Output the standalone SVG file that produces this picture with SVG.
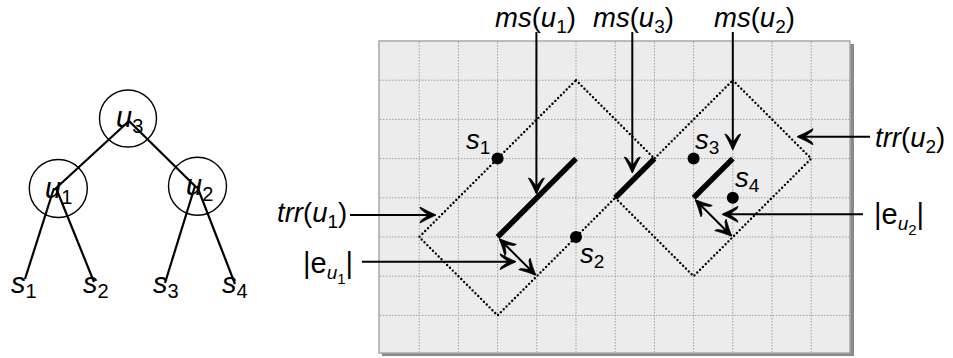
<svg xmlns="http://www.w3.org/2000/svg" width="953" height="358" viewBox="0 0 953 358">
<style>
text{font-family:"Liberation Sans",Arial,sans-serif;font-size:27.5px;fill:#000}
.i{font-style:italic}
.sb{font-size:19px;font-style:normal}
.ss{font-size:19px;font-style:italic}
.sss{font-size:15px;font-style:normal}
.t{font-size:29px}
.tsb{font-size:20px}
.edge{stroke:#000;stroke-width:2.2;fill:none}
.circ{stroke:#000;stroke-width:1.4;fill:none}
.grid{stroke:#a0a0a0;stroke-width:1;stroke-dasharray:1.5 1.5}
.trr{stroke:#000;stroke-width:2.4;stroke-dasharray:0 4;stroke-linecap:round;fill:none}
.ms{stroke:#000;stroke-width:5.5;stroke-linecap:butt}
.arr{stroke:#000;stroke-width:2;fill:none;marker-end:url(#ah)}
.dbl{stroke:#000;stroke-width:2;fill:none;marker-end:url(#ah);marker-start:url(#ahs)}
</style>
<defs>
<marker id="ah" markerUnits="userSpaceOnUse" viewBox="-17 -10 20 20" refX="0" refY="0" markerWidth="20" markerHeight="20" orient="auto">
<path d="M1,0 Q-7,-3.5 -15,-8 L-14,-5.5 Q-9,-2 -7,0 Q-9,2 -14,5.5 L-15,8 Q-7,3.5 1,0 Z" fill="#000" stroke="#000" stroke-width="0.8" stroke-linejoin="round"/>
</marker>
<marker id="ahs" markerUnits="userSpaceOnUse" viewBox="-17 -10 20 20" refX="0" refY="0" markerWidth="20" markerHeight="20" orient="auto-start-reverse">
<path d="M1,0 Q-7,-3.5 -15,-8 L-14,-5.5 Q-9,-2 -7,0 Q-9,2 -14,5.5 L-15,8 Q-7,3.5 1,0 Z" fill="#000" stroke="#000" stroke-width="0.8" stroke-linejoin="round"/>
</marker>
</defs>

<!-- Tree -->
<g id="tree-edges">
<line class="edge" x1="129" y1="121" x2="54" y2="190"/>
<line class="edge" x1="129" y1="121" x2="197" y2="188"/>
<line class="edge" x1="54" y1="188" x2="25" y2="279"/>
<line class="edge" x1="56" y1="188" x2="94" y2="282"/>
<line class="edge" x1="195" y1="186" x2="165" y2="283"/>
<line class="edge" x1="197" y1="186" x2="235" y2="284"/>
</g>
<g id="node-u3"><circle class="circ" cx="128" cy="118.5" r="28.5"/><text class="t" x="116" y="127"><tspan class="i">u</tspan><tspan class="tsb" dy="6">3</tspan></text></g>
<g id="node-u1"><circle class="circ" cx="58.3" cy="188.5" r="29"/><text class="t" x="45" y="198"><tspan class="i">u</tspan><tspan class="tsb" dy="6">1</tspan></text></g>
<g id="node-u2"><circle class="circ" cx="197.5" cy="186.2" r="29"/><text class="t" x="186" y="195"><tspan class="i">u</tspan><tspan class="tsb" dy="6">2</tspan></text></g>
<g id="node-s1"><text class="t" x="11" y="293"><tspan class="i">s</tspan><tspan class="tsb" dy="5">1</tspan></text></g>
<g id="node-s2"><text class="t" x="83" y="293"><tspan class="i">s</tspan><tspan class="tsb" dy="5">2</tspan></text></g>
<g id="node-s3"><text class="t" x="153" y="293"><tspan class="i">s</tspan><tspan class="tsb" dy="5">3</tspan></text></g>
<g id="node-s4"><text class="t" x="222" y="293"><tspan class="i">s</tspan><tspan class="tsb" dy="5">4</tspan></text></g>

<!-- Panel -->
<g id="panel">
<rect x="382" y="44" width="472" height="312" fill="#8a8a8a"/>
<rect x="379" y="41" width="471" height="312" fill="#ececec" stroke="#a8a8a8" stroke-width="1.5"/>
<g id="grid">
<line class="grid" x1="419.2" y1="42" x2="419.2" y2="352"/>
<line class="grid" x1="458.4" y1="42" x2="458.4" y2="352"/>
<line class="grid" x1="497.6" y1="42" x2="497.6" y2="352"/>
<line class="grid" x1="536.8" y1="42" x2="536.8" y2="352"/>
<line class="grid" x1="576" y1="42" x2="576" y2="352"/>
<line class="grid" x1="615.2" y1="42" x2="615.2" y2="352"/>
<line class="grid" x1="654.4" y1="42" x2="654.4" y2="352"/>
<line class="grid" x1="693.6" y1="42" x2="693.6" y2="352"/>
<line class="grid" x1="732.8" y1="42" x2="732.8" y2="352"/>
<line class="grid" x1="772" y1="42" x2="772" y2="352"/>
<line class="grid" x1="811.2" y1="42" x2="811.2" y2="352"/>
<line class="grid" x1="380" y1="80.2" x2="849" y2="80.2"/>
<line class="grid" x1="380" y1="119.4" x2="849" y2="119.4"/>
<line class="grid" x1="380" y1="158.6" x2="849" y2="158.6"/>
<line class="grid" x1="380" y1="197.8" x2="849" y2="197.8"/>
<line class="grid" x1="380" y1="237" x2="849" y2="237"/>
<line class="grid" x1="380" y1="276.2" x2="849" y2="276.2"/>
<line class="grid" x1="380" y1="315.4" x2="849" y2="315.4"/>
</g>
</g>

<g id="trr-u1"><polygon class="trr" points="576,80.2 654.4,158.6 497.6,315.4 419.2,237"/></g>
<g id="trr-u2"><polygon class="trr" points="732.8,80.2 811.2,158.6 693.6,276.2 615.2,197.8"/></g>
<g id="ms-u1"><line class="ms" x1="497.6" y1="237" x2="576" y2="158.6"/></g>
<g id="ms-u3"><line class="ms" x1="615.2" y1="197.8" x2="654.4" y2="158.6"/></g>
<g id="ms-u2"><line class="ms" x1="693.6" y1="197.8" x2="732.8" y2="158.6"/></g>

<g id="pt-s1"><circle cx="497.6" cy="158.6" r="6" fill="#000"/><text x="466" y="149"><tspan class="i">s</tspan><tspan class="sb" dy="5">1</tspan></text></g>
<g id="pt-s2"><circle cx="576" cy="237" r="6" fill="#000"/><text x="580" y="263"><tspan class="i">s</tspan><tspan class="sb" dy="5">2</tspan></text></g>
<g id="pt-s3"><circle cx="693.6" cy="158.6" r="6" fill="#000"/><text x="695" y="149"><tspan class="i">s</tspan><tspan class="sb" dy="5">3</tspan></text></g>
<g id="pt-s4"><circle cx="732.8" cy="197.8" r="6" fill="#000"/><text x="735" y="187"><tspan class="i">s</tspan><tspan class="sb" dy="5">4</tspan></text></g>

<!-- Labels -->
<g id="lbl-ms-u1"><text x="495" y="27"><tspan class="i">ms</tspan>(<tspan class="i">u</tspan><tspan class="sb" dy="6">1</tspan><tspan dy="-6">)</tspan></text></g>
<g id="lbl-ms-u3"><text x="593" y="27"><tspan class="i">ms</tspan>(<tspan class="i">u</tspan><tspan class="sb" dy="6">3</tspan><tspan dy="-6">)</tspan></text></g>
<g id="lbl-ms-u2"><text x="714" y="27"><tspan class="i">ms</tspan>(<tspan class="i">u</tspan><tspan class="sb" dy="6">2</tspan><tspan dy="-6">)</tspan></text></g>
<g id="lbl-trr-u1"><text x="277" y="222"><tspan class="i">trr</tspan>(<tspan class="i">u</tspan><tspan class="sb" dy="6">1</tspan><tspan dy="-6">)</tspan></text></g>
<g id="lbl-trr-u2"><text x="875" y="147"><tspan class="i">trr</tspan>(<tspan class="i">u</tspan><tspan class="sb" dy="6">2</tspan><tspan dy="-6">)</tspan></text></g>
<g id="lbl-e-u1"><text x="303" y="273" style="font-size:29px">|e<tspan class="ss" dy="6">u</tspan><tspan class="sss" dy="5">1</tspan><tspan dy="-11">|</tspan></text></g>
<g id="lbl-e-u2"><text x="874" y="224" style="font-size:29px">|e<tspan class="ss" dy="6">u</tspan><tspan class="sss" dy="5">2</tspan><tspan dy="-11">|</tspan></text></g>

<g id="connectors">
<line class="arr" x1="536.4" y1="32" x2="536.4" y2="193"/>
<line class="arr" x1="632.3" y1="32" x2="632.3" y2="172"/>
<line class="arr" x1="732.8" y1="32" x2="732.8" y2="149"/>
<line class="arr" x1="350" y1="215" x2="435" y2="215"/>
<line class="arr" x1="870" y1="136.7" x2="798" y2="136.7"/>
<line class="arr" x1="362" y1="261.7" x2="515" y2="261.7"/>
<line class="arr" x1="863" y1="214.3" x2="723" y2="214.3"/>
<line class="dbl" x1="500" y1="239.5" x2="535" y2="274.5"/>
<line class="dbl" x1="696" y1="200.5" x2="731" y2="235.5"/>
</g>
</svg>
